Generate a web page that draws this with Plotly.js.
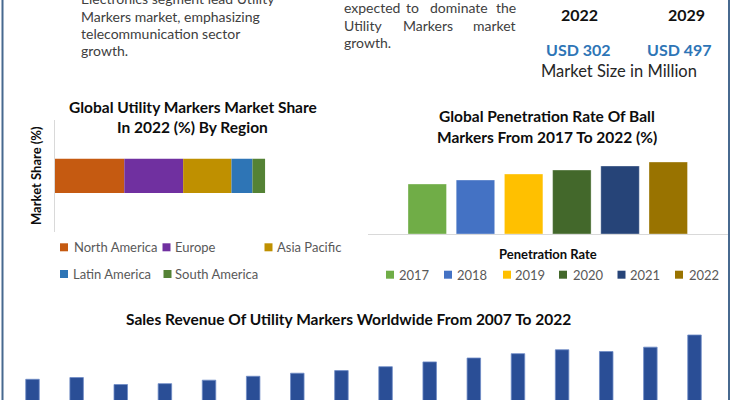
<!DOCTYPE html>
<html>
<head>
<meta charset="utf-8">
<script src="https://cdn.plot.ly/plotly-3.0.1.min.js"></script>
<style>html,body{margin:0;padding:0;background:#fff;}#chart{width:735px;height:400px;}</style>
</head>
<body>
<div id="chart"></div>
<script>
// ---------------- DATA ----------------
const regions = ['North America', 'Europe', 'Asia Pacific', 'Latin America', 'South America'];
const regionShare = [33, 28, 23, 10, 6];

const penYears = ['2017', '2018', '2019', '2020', '2021', '2022'];
const penRate = [25, 27, 30, 32, 34, 36];
const penCategory = ['Penetration Rate'];

const revYears = ['2007', '2008', '2009', '2010', '2011', '2012', '2013', '2014',
                  '2015', '2016', '2017', '2018', '2019', '2020', '2021', '2022'];
const revenue = [200, 204, 188, 190, 198, 207, 214, 220, 229, 240, 249, 259, 268, 264, 274, 302];

const sizeYears = ['2022', '2029'];
const sizeValues = [302, 497];

// ---------------- STYLE ----------------
const regionColors = ['#C55A11', '#7030A0', '#BF9000', '#2E75B6', '#548235'];
const penColors = ['#70AD47', '#4472C4', '#FFC000', '#43682B', '#264478', '#997300'];
const revColor = '#2A4E96';
const FONT = 'Lato, "Open Sans", sans-serif';

const W = 735, H = 400;
const px = x => x / W;
const py = y => 1 - y / H;

const traces = [];

// Left chart: stacked horizontal bar (manual stacking via base)
let cum = 0;
regions.forEach((r, i) => {
  traces.push({
    type: 'bar', orientation: 'h', name: r,
    x: [regionShare[i]], y: ['Share'], base: [cum],
    width: 0.308,
    marker: {color: regionColors[i]},
    xaxis: 'x', yaxis: 'y', showlegend: false, hoverinfo: 'skip'
  });
  cum += regionShare[i];
});

// Right chart: grouped bars inside one category
const slot = 48.2 / 360, bw = 38.5 / 360, firstOff = (408 - 548) / 360;
penYears.forEach((yr, i) => {
  traces.push({
    type: 'bar', name: yr,
    x: penCategory, y: [penRate[i]],
    offset: firstOff + i * slot, width: bw,
    marker: {color: penColors[i], line: {color: 'rgba(255,255,255,0.35)', width: 1}},
    xaxis: 'x2', yaxis: 'y2', showlegend: false, hoverinfo: 'skip'
  });
});

// Bottom chart: revenue bars
traces.push({
  type: 'bar', name: 'Revenue',
  x: revYears, y: revenue, width: 0.306,
  marker: {color: revColor, line: {color: '#6E8CC6', width: 0.8}},
  xaxis: 'x3', yaxis: 'y3', showlegend: false, hoverinfo: 'skip'
});

// ---------------- ANNOTATIONS ----------------
const ann = [];
function T(text, x, y, o) {
  o = o || {};
  ann.push({
    text: text, x: px(x), y: py(y), xref: 'paper', yref: 'paper', showarrow: false,
    xanchor: o.xa || 'center', yanchor: 'middle', textangle: o.angle || 0,
    font: {family: FONT, size: o.size || 14, color: o.color || '#404040'}
  });
}

// Top-left text
T('Electronics segment lead Utility', 79, -1.5, {xa: 'left', size: 14});
T('Markers market, emphasizing', 79, 16, {xa: 'left', size: 14});
T('telecommunication sector', 79, 33.5, {xa: 'left', size: 14});
T('growth.', 79, 51, {xa: 'left', size: 14});

// Middle justified text
T('expected', 342, 7.3, {xa: 'left'});
T('to', 412.5, 7.3);
T('dominate', 459.3, 7.3);
T('the', 518, 7.3, {xa: 'right'});
T('Utility', 342, 25.3, {xa: 'left'});
T('Markers', 428.3, 25.3);
T('market', 518, 25.3, {xa: 'right'});
T('growth.', 342, 42.7, {xa: 'left'});

// Market size block
const yearX = [579, 686.5], usdX = [578.5, 679];
sizeYears.forEach((yr, i) => {
  T('<b>' + yr + '</b>', yearX[i], 15, {size: 16, color: '#111111'});
  T('<b>USD ' + sizeValues[i] + '</b>', usdX[i], 49.3, {size: 16, color: '#2E75B6'});
});
T('Market Size in Million', 619, 71, {size: 16.5, color: '#262626'});

// Titles
T('<b>Global Utility Markers Market Share</b>', 192.5, 106.7, {size: 15.5, color: '#0d0d0d'});
T('<b>In 2022 (%) By Region</b>', 192.5, 127.3, {size: 15.5, color: '#0d0d0d'});
T('<b>Market Share (%)</b>', 36, 176, {size: 13, color: '#0d0d0d', angle: -90});

T('<b>Global Penetration Rate Of Ball</b>', 547, 115.7, {size: 15.5, color: '#0d0d0d'});
T('<b>Markers From 2017 To 2022 (%)</b>', 547, 136.7, {size: 15.5, color: '#0d0d0d'});
T('<b>' + penCategory[0] + '</b>', 547.5, 254, {size: 13, color: '#0d0d0d'});

T('<b>Sales Revenue Of Utility Markers Worldwide From 2007 To 2022</b>', 348, 319.3, {size: 15.5, color: '#0d0d0d'});

// Legends (markers as shapes, labels as text)
const shapes = [];
function sq(cx, cy, color) {
  shapes.push({type: 'rect', xref: 'paper', yref: 'paper',
    x0: px(cx - 4), x1: px(cx + 4), y0: py(cy + 4), y1: py(cy - 4),
    fillcolor: color, line: {width: 0}});
}
const regLegPos = [[64, 72, 247.3], [166.5, 173, 247.3], [268.5, 275, 247.3], [64, 71, 274], [167.5, 173, 274]];
regions.forEach((r, i) => {
  const p = regLegPos[i];
  sq(p[0], p[2], regionColors[i]);
  T(r, p[1], p[2], {xa: 'left', size: 13, color: '#595959'});
});
const penLegMk = [390, 448, 507, 563, 621.5, 679];
const penLegTx = [397, 455, 513, 571, 628, 687];
penYears.forEach((yr, i) => {
  sq(penLegMk[i], 274.7, penColors[i]);
  T(yr, penLegTx[i], 274.7, {xa: 'left', size: 13, color: '#595959'});
});

// Frame borders
shapes.push({type: 'line', xref: 'paper', yref: 'paper', x0: px(2.5), x1: px(2.5), y0: 0, y1: 1,
  line: {color: '#47698F', width: 2}});
shapes.push({type: 'line', xref: 'paper', yref: 'paper', x0: px(729), x1: px(729), y0: 0, y1: 1,
  line: {color: '#47698F', width: 2}});

// ---------------- LAYOUT ----------------
const hidden = {showgrid: false, zeroline: false, showticklabels: false, ticks: '', fixedrange: true};
const layout = {
  width: W, height: H, autosize: false,
  margin: {l: 0, r: 0, t: 0, b: 0, pad: 0},
  paper_bgcolor: '#ffffff', plot_bgcolor: 'rgba(0,0,0,0)',
  barmode: 'overlay', showlegend: false,
  font: {family: FONT},
  xaxis: Object.assign({}, hidden, {domain: [px(55), px(368)], range: [0, 149], anchor: 'y', showline: false}),
  yaxis: Object.assign({}, hidden, {domain: [py(231.7), py(120)], range: [-0.5, 0.5], anchor: 'x',
    type: 'category', showline: true, linecolor: '#d9d9d9', linewidth: 1}),
  xaxis2: Object.assign({}, hidden, {domain: [px(368), px(728)], range: [-0.5, 0.5], anchor: 'y2',
    type: 'category', showline: true, linecolor: '#d9d9d9', linewidth: 1}),
  yaxis2: Object.assign({}, hidden, {domain: [py(234), py(150)], range: [0, 42], anchor: 'x2'}),
  xaxis3: Object.assign({}, hidden, {domain: [px(10.43), px(716.57)], anchor: 'y3', type: 'category'}),
  yaxis3: Object.assign({}, hidden, {domain: [0, py(330)], range: [152.3, 313.5], anchor: 'x3'}),
  annotations: ann,
  shapes: shapes
};

Plotly.newPlot('chart', traces, layout, {staticPlot: true, displayModeBar: false});
</script>
</body>
</html>
